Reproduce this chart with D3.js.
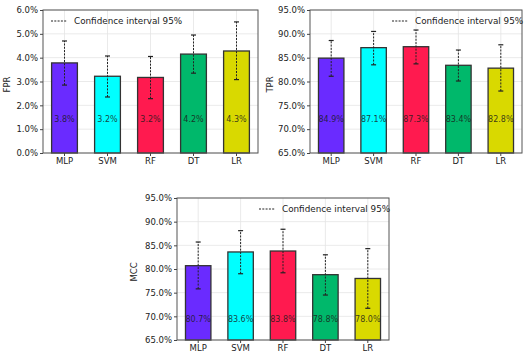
<!DOCTYPE html>
<html><head><meta charset="utf-8">
<script src="https://cdn.jsdelivr.net/npm/d3@7"></script>
<style>body{margin:0;background:#fff}svg{display:block}text{font-family:"DejaVu Sans",sans-serif}</style>
</head><body><svg id="c" width="529" height="358"></svg>
<script>
const models = ["MLP","SVM","RF","DT","LR"];
const colors = ["#6a2bff","#00ffff","#ff1a4f","#00b86b","#d9d900"];
const fprValues = [3.78,3.22,3.17,4.15,4.28];
const fprLabels = ["3.8%","3.2%","3.2%","4.2%","4.3%"];
const fprLow = [2.85,2.35,2.28,3.35,3.08];
const fprHigh = [4.70,4.07,4.05,4.95,5.50];
const fprTicks = [0,1,2,3,4,5,6];
const tprValues = [84.9,87.1,87.3,83.4,82.8];
const tprLabels = ["84.9%","87.1%","87.3%","83.4%","82.8%"];
const tprLow = [81.1,83.5,83.7,80.1,78.0];
const tprHigh = [88.6,90.5,90.8,86.6,87.7];
const mccValues = [80.7,83.6,83.8,78.8,78.0];
const mccLabels = ["80.7%","83.6%","83.8%","78.8%","78.0%"];
const mccLow = [75.8,79.0,79.2,74.5,71.7];
const mccHigh = [85.7,88.1,88.4,83.0,84.3];
const pctTicks = [65,70,75,80,85,90,95];
const legendText = "Confidence interval 95%";

const svg = d3.select("#c");

function panel(cfg){
  const g = svg.append("g");
  const x = d3.scaleBand().domain(models).range([cfg.x0,cfg.x1]).paddingInner(0.4).paddingOuter(0.2);
  const y = d3.scaleLinear().domain(cfg.domain).range([cfg.y1,cfg.y0]);
  // grid
  g.append("g").selectAll("line").data(cfg.ticks).join("line")
    .attr("x1",cfg.x0).attr("x2",cfg.x1).attr("y1",d=>y(d)).attr("y2",d=>y(d))
    .attr("stroke","#e4e4e4").attr("stroke-width",0.8);
  g.append("g").selectAll("line").data(models).join("line")
    .attr("x1",d=>x(d)+x.bandwidth()/2).attr("x2",d=>x(d)+x.bandwidth()/2)
    .attr("y1",cfg.y0).attr("y2",cfg.y1).attr("stroke","#e4e4e4").attr("stroke-width",0.8);
  // bars
  g.append("g").selectAll("rect").data(models).join("rect")
    .attr("x",d=>x(d)).attr("width",x.bandwidth())
    .attr("y",(d,i)=>y(cfg.values[i])).attr("height",(d,i)=>y(cfg.domain[0])-y(cfg.values[i]))
    .attr("fill",(d,i)=>colors[i]).attr("stroke","#333").attr("stroke-width",1.3);
  // error bars
  const eb = g.append("g");
  models.forEach((m,i)=>{
    const cx = x(m)+x.bandwidth()/2;
    eb.append("line").attr("x1",cx).attr("x2",cx).attr("y1",y(cfg.low[i])).attr("y2",y(cfg.high[i]))
      .attr("stroke","#222").attr("stroke-width",1).attr("stroke-dasharray","2,1.3");
    [cfg.low[i],cfg.high[i]].forEach(v=>{
      eb.append("line").attr("x1",cx-2.5).attr("x2",cx+2.5).attr("y1",y(v)).attr("y2",y(v))
        .attr("stroke","#222").attr("stroke-width",1.2);
    });
    eb.append("text").attr("x",cx).attr("y",y(cfg.labelAt)).attr("dy","0.35em")
      .attr("text-anchor","middle").attr("font-size",8).attr("fill","#1a1a1a").attr("fill-opacity",0.85)
      .text(cfg.labels[i]);
  });
  // frame
  g.append("rect").attr("x",cfg.x0).attr("y",cfg.y0).attr("width",cfg.x1-cfg.x0).attr("height",cfg.y1-cfg.y0)
    .attr("fill","none").attr("stroke","#555").attr("stroke-width",1);
  // axes
  const ya = g.append("g").attr("transform",`translate(${cfg.x0},0)`)
    .call(d3.axisLeft(y).tickValues(cfg.ticks).tickSize(3).tickPadding(2).tickFormat(d=>d.toFixed(1)+"%"));
  const xa = g.append("g").attr("transform",`translate(0,${cfg.y1})`)
    .call(d3.axisBottom(x).tickSize(3).tickPadding(2));
  [ya,xa].forEach(a=>{
    a.select(".domain").remove();
    a.selectAll("line").attr("stroke","#444");
    a.selectAll("text").attr("font-size",8.5).attr("fill","#222").style("font-family","DejaVu Sans");
  });
  g.append("text").attr("transform",`translate(${cfg.x0-cfg.ylabelOff},${(cfg.y0+cfg.y1)/2+3}) rotate(-90)`)
    .attr("text-anchor","middle").attr("font-size",8.5).attr("fill","#222").text(cfg.ylabel);
  // legend
  const lx = cfg.legendX, ly = cfg.y0+11;
  g.append("line").attr("x1",lx).attr("x2",lx+16).attr("y1",ly).attr("y2",ly)
    .attr("stroke","#222").attr("stroke-width",1).attr("stroke-dasharray","2,1.3");
  g.append("text").attr("x",lx+23).attr("y",ly).attr("dy","0.35em").attr("font-size",8.8)
    .attr("fill","#222").text(legendText);
}

panel({x0:43,x1:258,y0:10,y1:153,domain:[0,6],ticks:fprTicks,values:fprValues,low:fprLow,high:fprHigh,
  labels:fprLabels,labelAt:1.4,ylabel:"FPR",ylabelOff:33,legendX:51});
panel({x0:310,x1:522,y0:10,y1:153,domain:[65,95],ticks:pctTicks,values:tprValues,low:tprLow,high:tprHigh,
  labels:tprLabels,labelAt:72,ylabel:"TPR",ylabelOff:37,legendX:392});
panel({x0:177,x1:389,y0:198,y1:340,domain:[65,95],ticks:pctTicks,values:mccValues,low:mccLow,high:mccHigh,
  labels:mccLabels,labelAt:69.5,ylabel:"MCC",ylabelOff:40,legendX:259});
</script></body></html>
